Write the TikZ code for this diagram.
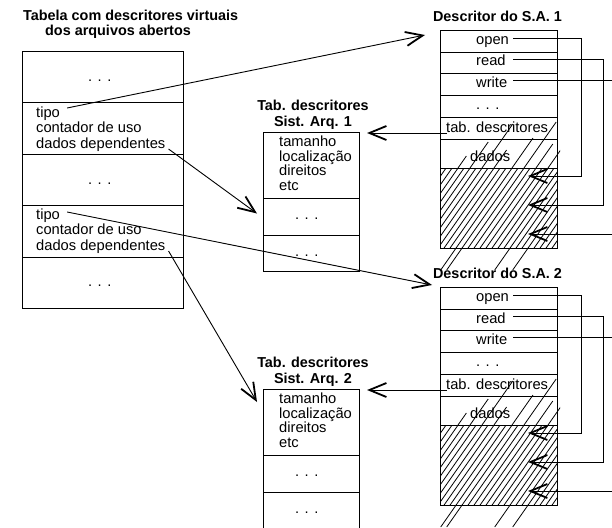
\documentclass[tikz,border=0pt]{standalone}
\usepackage{fontspec}
\setmainfont{Liberation Sans}
\usetikzlibrary{arrows.meta,calc}

\tikzset{
  lbl/.style={inner sep=0pt, text height=14pt, text depth=0pt, anchor=base west,
              font=\fontsize{14.7}{15}\selectfont},
  ttl/.style={inner sep=0pt, anchor=base, font=\fontsize{14.4}{15}\selectfont\bfseries},
  cell/.style={draw, line width=1.05pt, inner sep=0pt, anchor=north west},
  link/.style={line width=0.9pt, -{Straight Barb[length=17pt,width=14pt,line width=1.8pt]}},
  hatch/.style={line width=0.8pt},
}

\begin{document}
\begin{tikzpicture}[x=1pt,y=-1pt]
\useasboundingbox (0,0) rectangle (612,527);
\clip (0,0) rectangle (612,527);

% ---- table of virtual file descriptors (left) ----
\node[ttl, anchor=base west] (ttlA) at (23,20.5) {Tabela com descritores virtuais};
\node[ttl, anchor=base west] (ttlB) at (45,36) {dos arquivos abertos};

\node[cell, minimum width=161pt, minimum height=51.4pt] (L1) at (22,51) {};
\node[cell, minimum width=161pt, minimum height=51.4pt] (L2) at (22,102.4) {};
\node[cell, minimum width=161pt, minimum height=51.4pt] (L3) at (22,153.8) {};
\node[cell, minimum width=161pt, minimum height=51.4pt] (L4) at (22,205.2) {};
\node[cell, minimum width=161pt, minimum height=51.4pt] (L5) at (22,256.6) {};

\node[lbl] (dotsA) at (88,81) {. . .};
\node[lbl] (tipo1) at (36,117) {tipo};
\node[lbl] (uso1)  at (36,132.5) {contador de uso};
\node[lbl] (dep1)  at (36,148) {dados dependentes};
\node[lbl] (dotsB) at (88,184) {. . .};
\node[lbl] (tipo2) at (36,219) {tipo};
\node[lbl] (uso2)  at (36,234.5) {contador de uso};
\node[lbl] (dep2)  at (36,250) {dados dependentes};
\node[lbl] (dotsC) at (88,286) {. . .};

% ---- file system tables and file system descriptors ----
\foreach \n/\yo in {1/0,2/257}{
  % descriptor table of the file system
  \node[ttl] (T\n-ttlA) at (313,{110+\yo}) {Tab. descritores};
  \node[ttl] (T\n-ttlB) at (313,{126+\yo}) {Sist. Arq. \n};
  \node[cell, minimum width=96pt, minimum height=66pt] (T\n-top) at (263,{132+\yo}) {};
  \node[cell, minimum width=96pt, minimum height=37pt] (T\n-mid) at (263,{198+\yo}) {};
  \node[cell, minimum width=96pt, minimum height=36pt] (T\n-bot) at (263,{235+\yo}) {};
  \node[lbl] (T\n-a) at (279,{146.5+\yo}) {tamanho};
  \node[lbl] (T\n-b) at (279,{161+\yo}) {localização};
  \node[lbl] (T\n-c) at (279,{175.5+\yo}) {direitos};
  \node[lbl] (T\n-d) at (279,{190+\yo}) {etc};
  \node[lbl] (T\n-e) at (295,{219+\yo}) {. . .};
  \node[lbl] (T\n-f) at (295,{256+\yo}) {. . .};

  % hatched data area
  \begin{scope}
    \clip (440,{168+\yo}) rectangle (557,{248+\yo});
    \foreach \i in {-11,...,29}
      \draw[hatch] ({375.7+6*\i},{260+\yo}) -- ++(105,-150);
  \end{scope}
  \begin{scope}
    \clip (430,{100+\yo}) rectangle (560,{168+\yo});
    \foreach \i/\h in {3/12,5/26,7/44,9/18,12/30,14/46,16/24,18/40}
      \draw[hatch] ({440+6*\i},{168+\yo}) -- ++({\h/1.43},{-\h});
  \end{scope}
  \foreach \i in {12,13,21,24}
    \draw[hatch] ({384.1+6*\i},{248+\yo}) -- ++({-22/1.43},22);

  % file system descriptor
  \node[ttl] (S\n-ttl) at (497.5,{21.5+\yo}) {Descritor do S.A. \n};
  \node[cell, minimum width=117pt, minimum height=22pt] (S\n-open) at (440,{30+\yo}) {};
  \node[cell, minimum width=117pt, minimum height=21pt] (S\n-read) at (440,{52+\yo}) {};
  \node[cell, minimum width=117pt, minimum height=22pt] (S\n-write) at (440,{73+\yo}) {};
  \node[cell, minimum width=117pt, minimum height=22pt] (S\n-dots) at (440,{95+\yo}) {};
  \node[cell, minimum width=117pt, minimum height=22pt] (S\n-tab) at (440,{117+\yo}) {};
  \node[cell, minimum width=117pt, minimum height=29pt] (S\n-dat) at (440,{139+\yo}) {};
  \node[cell, minimum width=117pt, minimum height=80pt] (S\n-hat) at (440,{168+\yo}) {};

  \node[lbl] (S\n-o) at (476,{44.5+\yo}) {open};
  \node[lbl] (S\n-r) at (476,{66+\yo}) {read};
  \node[lbl] (S\n-w) at (476,{87.5+\yo}) {write};
  \node[lbl] (S\n-p) at (476,{109+\yo}) {. . .};
  \node[lbl] (S\n-t) at (446,{132+\yo}) {tab. descritores};
  \node[lbl] (S\n-d) at (470,{161+\yo}) {dados};

  % operation pointers into the data area
  \draw[link] ($(S\n-o.base west)+(37,-6.5)$) -| ($(S\n-hat.north east)+(23,8)$)
              -- ($(S\n-hat.north west)+(88,8)$);
  \draw[link] ($(S\n-r.base west)+(37,-6.5)$) -| ($(S\n-hat.north east)+(45,37)$)
              -- ($(S\n-hat.north west)+(88,37)$);
  \draw[link] ($(S\n-w.base west)+(37,-7.5)$) -- ++(120,0)
              |- ($(S\n-hat.north west)+(88,66)$);

  % pointer to the descriptor table
  \draw[link] ($(S\n-t.base west)+(1,1)$) -- ($(T\n-top.north east)+(7,1)$);
}

% ---- pointers from the virtual descriptors ----
\draw[link] ($(tipo1.base east)+(7,-9)$) -- ($(S1-open.north west)+(-15,5)$);
\draw[link] ($(dep1.base east)+(3,1)$) -- ($(T1-mid.west)+(-6,-3.5)$);
\draw[link] ($(tipo2.base east)+(7,-7)$) -- ($(S2-open.north west)+(-8,-2)$);
\draw[link] ($(dep2.base east)+(3,1)$) -- ($(T2-top.north west)+(-6,13)$);
\end{tikzpicture}
\end{document}
